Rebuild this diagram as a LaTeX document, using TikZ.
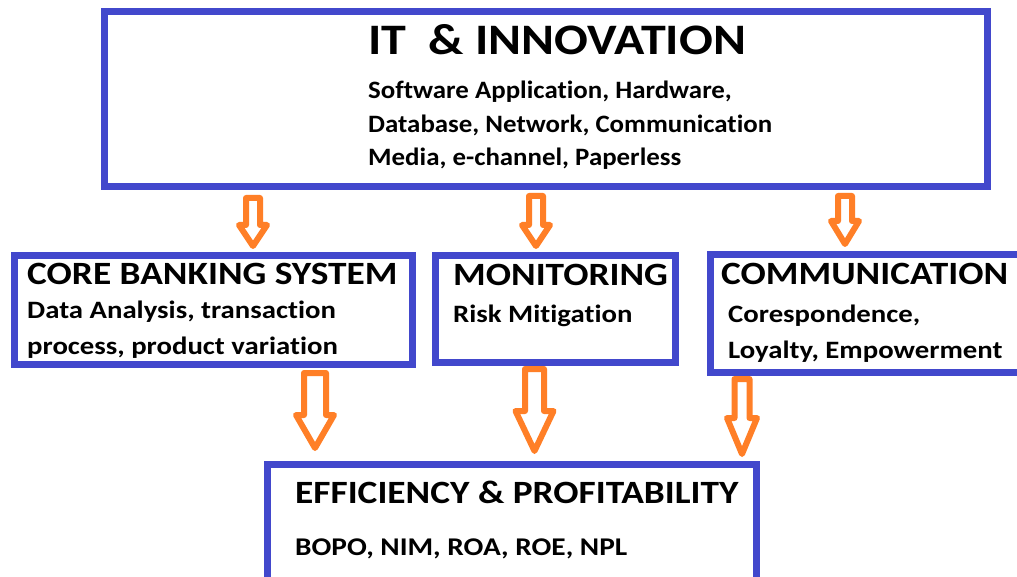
\documentclass[tikz,border=0pt]{standalone}
\usepackage{fontspec}
\setmainfont{Carlito}[Ligatures={TeX,NoCommon},FakeStretch=1.15]
\newfontfamily\itsubfont{Carlito}[Ligatures={TeX,NoCommon},FakeStretch=1.075]
\usetikzlibrary{calc}
\definecolor{boxblue}{RGB}{66,72,204}
\definecolor{arrorange}{RGB}{255,127,39}
\newcommand\hollowarrow[5]{%
  \draw[arr] let \p1=(#1), \p2=(#2) in
    (\x1-#3pt,\y1) -- (\x1+#3pt,\y1) -- (\x1+#3pt,\y2+#5pt) -- (\x1+#4pt,\y2+#5pt)
    -- (\x2,\y2) -- (\x1-#4pt,\y2+#5pt) -- (\x1-#3pt,\y2+#5pt) -- cycle;}
\begin{document}
\begin{tikzpicture}[x=1pt,y=-1pt,
  box/.style={draw=boxblue, line width=7pt, fill=white, rectangle, inner sep=0pt, outer sep=0pt, anchor=north west},
  arr/.style={draw=arrorange, fill=white, line width=6pt, line join=round},
  head/.style={anchor=base west, inner sep=0pt, font=\bfseries\fontsize{32.5}{36}\selectfont},
  sub/.style={anchor=base west, inner sep=0pt, font=\bfseries\fontsize{25}{30}\selectfont},
  itsub/.style={anchor=base west, inner sep=0pt, font=\itsubfont\bfseries\fontsize{25}{30}\selectfont}]
\useasboundingbox (0,0) rectangle (1017,577);
\fill[white] (0,0) rectangle (1017,577);
% boxes
\node[box, minimum width=882.5pt, minimum height=174.5pt] (it) at (104.5,12) {};
\node[box, minimum width=398pt, minimum height=109pt] (core) at (14.5,255.5) {};
\node[box, minimum width=240pt, minimum height=107pt] (mon) at (435.5,255.5) {};
\node[box, minimum width=330pt, minimum height=117.5pt] (comm) at (710.5,255) {};
\node[box, minimum width=489.5pt, minimum height=130pt] (eff) at (267,464.5) {};
% texts
\node[head, font=\bfseries\fontsize{43.5}{48}\selectfont] (itt) at (368,55) {IT\ \ \&\ INNOVATION};
\node[itsub] (its1) at (368,99) {Software Application, Hardware,};
\node[itsub] (its2) at (368,133) {Database, Network, Communication};
\node[itsub] (its3) at (368,166) {Media, e-channel, Paperless};
\node[head] (coret) at (27,285) {CORE BANKING SYSTEM};
\node[sub] (cores1) at (27,319) {Data Analysis, transaction};
\node[sub] (cores2) at (27,354) {process, product variation};
\node[head] (mont) at (453,286) {MONITORING};
\node[sub] (mons1) at (453,322) {Risk Mitigation};
\node[head] (commt) at (721,284) {COMMUNICATION};
\node[sub] (comms1) at (728,322) {Corespondence,};
\node[sub] (comms2) at (728,358) {Loyalty, Empowerment};
\node[head] (efft) at (295,503) {EFFICIENCY \& PROFITABILITY};
\node[sub, font=\bfseries\fontsize{25.5}{30}\selectfont] (effs1) at (295,555) {BOPO, NIM, ROA, ROE, NPL};
% arrow end points
\coordinate (a1s) at (253,198);   \coordinate (a1e) at (253,246);
\coordinate (a2s) at (536,196);   \coordinate (a2e) at (536,246);
\coordinate (a3s) at (845,196);   \coordinate (a3e) at (845,244);
\coordinate (b1s) at (315,373);   \coordinate (b1e) at (315,448);
\coordinate (b2s) at (534.5,369); \coordinate (b2e) at (534.5,451);
\coordinate (b3s) at (742,379);   \coordinate (b3e) at (742,454);
\hollowarrow{a1s}{a1e}{7}{14}{21}
\hollowarrow{a2s}{a2e}{7}{14}{21}
\hollowarrow{a3s}{a3e}{7}{14}{23}
\hollowarrow{b1s}{b1e}{11}{19}{33}
\hollowarrow{b2s}{b2e}{9.5}{19}{40}
\hollowarrow{b3s}{b3e}{7.5}{15}{36}
\end{tikzpicture}
\end{document}
